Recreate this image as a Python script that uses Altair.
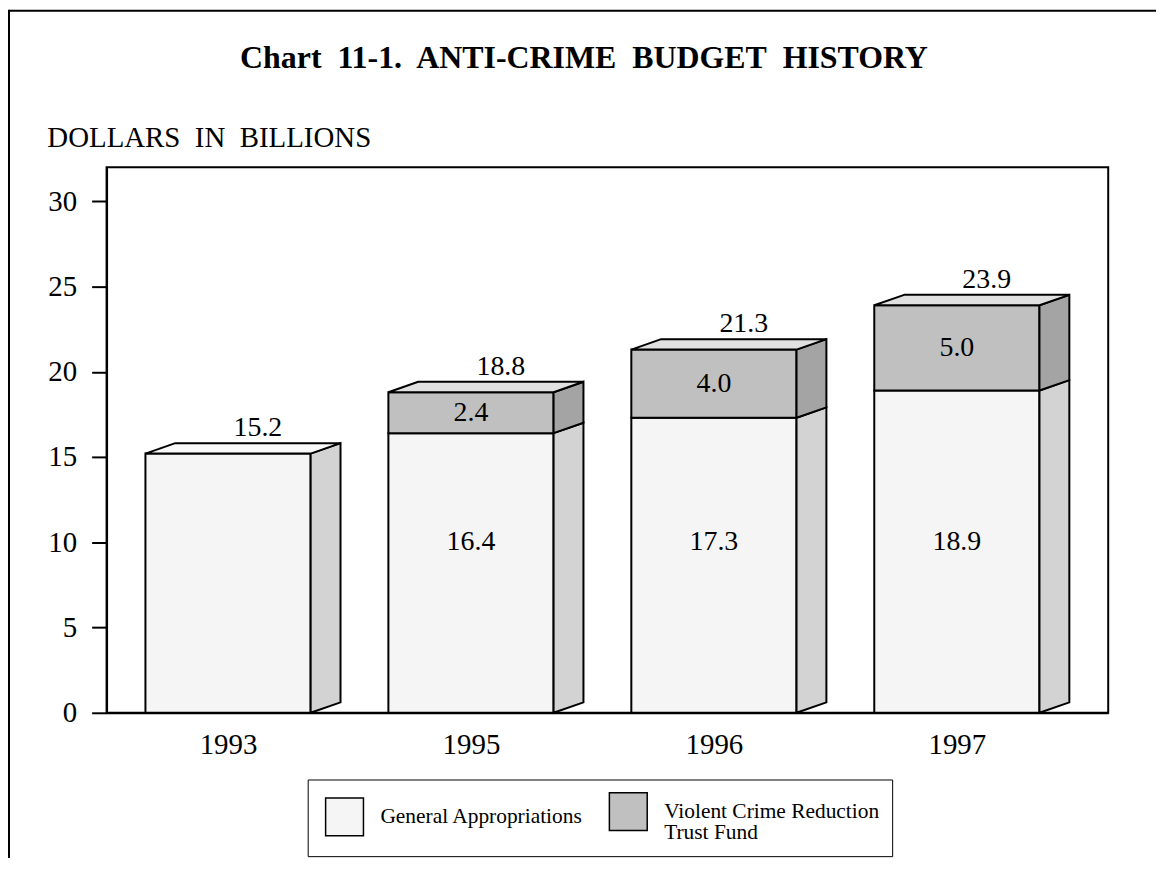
import json
import altair as alt
import pandas as pd

# ---------------- data ----------------
years = ["1993", "1995", "1996", "1997"]
general = [15.2, 16.4, 17.3, 18.9]
trust = [0.0, 2.4, 4.0, 5.0]
totals = [15.2, 18.8, 21.3, 23.9]
series = ["General Appropriations", "Violent Crime Reduction Trust Fund"]
y_ticks = [0, 5, 10, 15, 20, 25, 30]

# ---------------- style ----------------
FONT = "Liberation Serif"
W, H = 1006, 548
STEP = 244.0
XMAX = W / STEP
YMAX = 32
HALF = 0.34                 # half bar width (category units)
DX = 30 / STEP              # depth, x (category units)
DY = 10.5 * YMAX / H        # depth, y (value units)
INNER_LABEL_Y = 10.0

front_colors = ["#f5f5f5", "#c0c0c0"]
side_colors = ["#d3d3d3", "#a4a4a4"]
top_colors = ["#fafafa", "#e1e1e1"]

front_rows, side_rows, top_rows, label_rows = [], [], [], []
for i, yr in enumerate(years):
    c = i + 0.5
    xl, xr = c - HALF, c + HALF
    segs = [(0.0, general[i], 0)]
    if trust[i] > 0:
        segs.append((general[i], general[i] + trust[i], 1))
    for (y0, y1, s) in segs:
        fid = f"{yr}-{s}"
        front_rows.append(dict(xl=xl, xr=xr, y0=y0, y1=y1, series=series[s]))
        side_rows.append(dict(fid=fid, x=xr, lo=y0, hi=y1, col=side_colors[s]))
        side_rows.append(dict(fid=fid, x=xr + DX, lo=y0 + DY, hi=y1 + DY, col=side_colors[s]))
    y0, y1, s = segs[-1]
    fid = f"{yr}-top"
    top_rows.append(dict(fid=fid, y=y1, lo=xl, hi=xr, col=top_colors[s]))
    top_rows.append(dict(fid=fid, y=y1 + DY, lo=xl + DX, hi=xr + DX, col=top_colors[s]))
    label_rows.append(dict(x=c + DX, y=totals[i], t=f"{totals[i]:.1f}", kind="total"))
    if trust[i] > 0:
        label_rows.append(dict(x=c, y=INNER_LABEL_Y, t=f"{general[i]:.1f}", kind="inner"))
        label_rows.append(dict(x=c, y=general[i] + trust[i] / 2, t=f"{trust[i]:.1f}", kind="inner"))

df_front = pd.DataFrame(front_rows)
df_side = pd.DataFrame(side_rows)
df_top = pd.DataFrame(top_rows)
df_lab = pd.DataFrame(label_rows)

xs = alt.Scale(domain=[0, XMAX], nice=False, zero=False)
ys = alt.Scale(domain=[0, YMAX], nice=False)

x_axis = alt.Axis(
    values=[i + 0.5 for i in range(len(years))],
    labelExpr=f"{json.dumps(years)}[floor(datum.value)]",
    ticks=False, grid=False, title=None,
    domainColor="black", domainWidth=2,
    labelFont=FONT, labelFontSize=29, labelColor="black", labelPadding=18,
)
y_axis = alt.Axis(
    values=y_ticks, grid=False,
    tickSize=15, tickWidth=2, tickColor="black",
    domainColor="black", domainWidth=2,
    labelFont=FONT, labelFontSize=29, labelColor="black", labelPadding=15,
    title="DOLLARS\u00a0 IN\u00a0 BILLIONS",
    titleFont=FONT, titleFontSize=29, titleFontWeight="normal", titleColor="black",
    titleAngle=0, titleAlign="left", titleBaseline="alphabetic",
    titleX=-60, titleY=-21,
)

legend = alt.Legend(
    title=None, orient="none", legendX=202, legendY=615, direction="horizontal",
    symbolType="square", symbolSize=1444, symbolStrokeColor="black", symbolStrokeWidth=1.5,
    symbolOffset=5,
    labelFont=FONT, labelFontSize=21.5, labelColor="black", labelOffset=16, labelLimit=400,
    columnPadding=20, padding=12, strokeColor="black", fillColor="white",
    labelExpr="datum.label == 'Violent Crime Reduction Trust Fund' ? ['Violent Crime Reduction', 'Trust Fund'] : datum.label",
)


def X(field):
    return alt.X(field, scale=xs, axis=x_axis)


def Y(field):
    return alt.Y(field, scale=ys, axis=y_axis)


front = alt.Chart(df_front).mark_rect(stroke="black", strokeWidth=2).encode(
    x=X("xl:Q"),
    x2="xr:Q",
    y=Y("y0:Q"),
    y2="y1:Q",
    fill=alt.Fill("series:N", scale=alt.Scale(domain=series, range=front_colors), legend=legend),
)

side = alt.Chart(df_side).mark_area(orient="vertical", stroke="black", strokeWidth=2, opacity=1).encode(
    x=X("x:Q"),
    y=alt.Y("lo:Q", scale=ys, axis=y_axis, stack=None),
    y2="hi:Q",
    detail="fid:N",
    color=alt.Color("col:N", scale=None),
)

top = alt.Chart(df_top).mark_area(orient="horizontal", stroke="black", strokeWidth=2, opacity=1).encode(
    y=Y("y:Q"),
    x=alt.X("lo:Q", scale=xs, axis=x_axis, stack=None),
    x2="hi:Q",
    detail="fid:N",
    color=alt.Color("col:N", scale=None),
)

tot_labels = alt.Chart(df_lab).transform_filter("datum.kind == 'total'").mark_text(
    font=FONT, fontSize=28, color="black", baseline="alphabetic", dy=-17.5
).encode(x=X("x:Q"), y=Y("y:Q"), text="t:N")

inner_labels = alt.Chart(df_lab).transform_filter("datum.kind == 'inner'").mark_text(
    font=FONT, fontSize=28, color="black", baseline="middle"
).encode(x=X("x:Q"), y=Y("y:Q"), text="t:N")

one = pd.DataFrame({"a": [0]})
border_top = alt.Chart(one).mark_rule(color="black", strokeWidth=2).encode(
    x=alt.value(-98), x2=alt.value(W + 60), y=alt.value(-157))
border_left = alt.Chart(one).mark_rule(color="black", strokeWidth=2).encode(
    x=alt.value(-98), y=alt.value(-158), y2=alt.value(H + 150))

chart = alt.layer(
    front, side, top, tot_labels, inner_labels, border_top, border_left
).properties(
    width=W, height=H,
    autosize=alt.AutoSizeParams(type="none"),
    padding={"left": 99, "top": 158, "right": 48, "bottom": 144},
    title=alt.TitleParams(
        "Chart\u00a0 11-1.\u00a0 ANTI-CRIME\u00a0 BUDGET\u00a0 HISTORY",
        font=FONT, fontSize=32, fontWeight="bold", color="black",
        anchor="middle", frame="group", dx=-23.5, offset=-91, baseline="alphabetic",
    ),
).configure_view(stroke="black", strokeWidth=2).configure_legend(strokeWidth=2).configure(
    style={
        "guide-label": {"lineHeight": 22},
        "cell": {"stroke": "black", "strokeWidth": 2},
    }
)

chart.save("out.html", embed_options={"renderer": "svg", "actions": False})
